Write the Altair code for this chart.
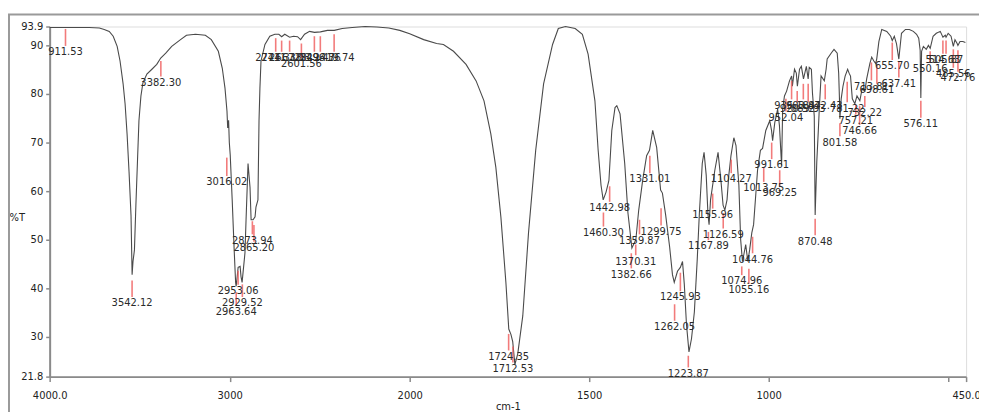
import altair as alt
import pandas as pd

# ---- spectrum trace (wavenumber cm-1, %T) ----
wavenumber = [
    4000, 3890, 3780, 3724, 3697, 3669, 3647, 3625, 3609, 3592, 3581, 3570, 3559, 3548,
    3542, 3537, 3529, 3521, 3512, 3504, 3493, 3482, 3460, 3432, 3405, 3383, 3355, 3322,
    3273, 3240, 3190, 3135, 3102, 3063, 3041, 3026, 3015, 3011, 3006, 3002, 2997, 2986,
    2975, 2967, 2964, 2958, 2953, 2942, 2937, 2931, 2915, 2909, 2898, 2887, 2881, 2870,
    2859, 2854, 2843, 2837, 2832, 2826, 2804, 2777, 2749, 2727, 2711, 2694, 2667, 2645,
    2623, 2606, 2584, 2556, 2529, 2496, 2457, 2419, 2375, 2319, 2248, 2182, 2116, 2055,
    2000, 1961, 1925, 1906, 1878, 1843, 1815, 1793, 1774, 1760, 1746, 1732, 1724, 1718,
    1713, 1707, 1699, 1685, 1669, 1649, 1627, 1602, 1586, 1566, 1539, 1519, 1503, 1484,
    1475, 1467, 1461, 1453, 1445, 1437, 1428, 1423, 1414, 1401, 1392, 1381, 1370, 1362,
    1351, 1340, 1332, 1323, 1312, 1301, 1296, 1287, 1276, 1268, 1263, 1254, 1246, 1240,
    1235, 1229, 1222, 1215, 1207, 1199, 1193, 1185, 1180, 1174, 1169, 1166, 1162, 1158,
    1150, 1141, 1133, 1127, 1122, 1116, 1111, 1105, 1097, 1091, 1083, 1078, 1073, 1069,
    1064, 1058, 1053, 1047, 1042, 1036, 1031, 1023, 1017, 1008, 997, 992, 989, 983,
    975, 970, 964, 961, 956, 950, 942, 936, 934, 928, 923, 920, 914, 909,
    903, 895, 890, 887, 881, 878, 873, 870.5, 866, 862, 859, 854, 845, 840,
    837, 826, 818, 809, 805, 803, 801.6, 798, 793, 787, 780, 776, 772, 767,
    760, 754, 746, 740, 732, 727, 718, 713, 707, 702, 699, 693, 685, 671,
    660, 655.7, 650, 644, 637.4, 630, 619, 608, 597, 588, 582, 578, 576.1, 574,
    569, 561, 555, 550, 542, 533, 522, 514.6, 508, 505.9, 500, 492, 485.6, 481,
    475, 472.8, 467, 459, 452,
]
transmittance = [
    93.7, 93.7, 93.7, 93.6, 93.3, 92.9, 91.9, 89.8, 86.8, 82.1, 78.0, 71.8, 64.0, 55.0,
    42.8, 45.5, 47.9, 57.1, 66.3, 74.5, 79.6, 82.3, 84.1, 85.1, 86.1, 87.4, 88.4, 89.8,
    91.2, 92.1, 92.3, 92.1, 91.2, 88.8, 85.3, 81.2, 76.5, 73.0, 74.6, 70.0, 67.5, 58.2,
    47.9, 41.2, 40.4, 42.5, 44.3, 44.5, 42.4, 41.2, 47.3, 54.1, 65.7, 60.8, 54.1, 54.1,
    54.7, 56.7, 58.2, 74.5, 81.2, 86.8, 90.2, 91.9, 92.3, 92.3, 91.8, 92.3, 91.7, 91.9,
    91.8, 91.2, 92.3, 92.9, 92.7, 92.8, 93.1, 93.1, 93.5, 93.7, 93.9, 93.8, 93.6, 93.1,
    92.4, 91.2, 90.4, 90.2, 88.8, 86.1, 82.7, 78.6, 71.8, 64.9, 54.7, 41.2, 31.6, 30.5,
    29.0, 24.3, 26.5, 34.3, 51.4, 68.4, 82.1, 90.2, 93.5, 93.9, 93.5, 92.3, 88.2, 78.6,
    68.4, 61.2, 58.2, 59.8, 62.2, 72.5, 77.2, 77.6, 75.9, 65.7, 55.5, 48.3, 50.0, 56.1,
    62.2, 67.3, 68.4, 72.5, 69.0, 60.2, 59.6, 55.1, 48.6, 42.8, 41.2, 43.5, 44.3, 45.5,
    40.8, 32.6, 26.9, 29.6, 35.1, 45.9, 55.5, 65.7, 68.0, 63.3, 55.1, 53.1, 58.2, 60.2,
    64.3, 68.0, 62.2, 57.1, 56.1, 58.2, 63.3, 67.3, 71.0, 69.4, 61.2, 50.0, 45.5, 47.0,
    49.0, 45.5, 47.9, 51.4, 53.1, 59.2, 64.3, 68.4, 68.8, 72.5, 74.5, 72.5, 70.4, 74.1,
    76.9, 73.5, 65.3, 76.9, 79.6, 80.6, 82.7, 83.7, 81.6, 85.1, 84.3, 81.6, 85.1, 85.7,
    83.1, 85.7, 83.1, 85.5, 85.1, 80.2, 75.5, 55.1, 66.0, 72.0, 76.9, 83.7, 82.7, 85.1,
    87.2, 88.4, 89.2, 88.4, 84.3, 79.5, 74.9, 79.0, 81.6, 83.7, 85.1, 84.3, 83.7, 79.0,
    78.0, 79.6, 78.6, 81.0, 80.6, 83.1, 86.3, 87.6, 86.8, 86.3, 87.2, 90.8, 93.3, 92.9,
    91.9, 91.0, 91.9, 90.4, 87.2, 92.5, 93.3, 93.3, 92.9, 92.3, 91.5, 89.0, 79.2, 88.8,
    89.8, 89.2, 90.0, 89.4, 91.9, 92.5, 92.9, 91.7, 92.1, 91.7, 92.5, 91.9, 89.8, 91.2,
    90.4, 90.0, 90.8, 90.8, 90.6,
]

# ---- peak annotations ----
peak_wn = [
    3912, 3542.12, 3382.30, 3016.02, 2963.64, 2953.06, 2929.52, 2873.94, 2865.20,
    2744.31, 2711.38, 2667.08, 2601.56, 2529.47, 2496.36, 2419.74,
    1724.35, 1712.53, 1460.30, 1442.98, 1382.66, 1370.31, 1359.87, 1331.01, 1299.75,
    1262.05, 1245.93, 1223.87, 1167.89, 1155.96, 1126.59, 1104.27, 1074.96, 1055.16,
    1044.76, 1013.75, 991.61, 969.25, 952.04, 936.18, 920.52, 903.47, 889.93, 870.48,
    842.43, 801.58, 781.22, 757.21, 746.66, 732.22, 713.81, 698.61, 655.70, 637.41,
    576.11, 550.16, 514.63, 505.87, 485.56, 472.76,
]
peak_text = [
    "911.53", "3542.12", "3382.30", "3016.02", "2963.64", "2953.06", "2929.52", "2873.94", "2865.20",
    "2744.31", "2711.38", "2667.08", "2601.56", "2529.47", "2496.36", "2419.74",
    "1724.35", "1712.53", "1460.30", "1442.98", "1382.66", "1370.31", "1359.87", "1331.01", "1299.75",
    "1262.05", "1245.93", "1223.87", "1167.89", "1155.96", "1126.59", "1104.27", "1074.96", "1055.16",
    "1044.76", "1013.75", "991.61", "969.25", "952.04", "936.18", "920.52", "903.47", "889.93", "870.48",
    "842.43", "801.58", "781.22", "757.21", "746.66", "732.22", "713.81", "698.61", "655.70", "637.41",
    "576.11", "550.16", "514.63", "505.87", "485.56", "472.76",
]
peak_top = [
    93.4, 41.6, 86.8, 66.9, 39.2, 43.6, 40.8, 53.8, 53.0,
    91.5, 91.0, 91.0, 90.4, 91.9, 91.9, 92.3,
    30.6, 28.0, 55.6, 61.0, 47.2, 49.0, 54.1, 67.3, 56.5,
    36.7, 43.2, 26.1, 51.6, 59.5, 55.5, 66.5, 44.5, 44.0,
    50.6, 64.9, 70.0, 64.3, 79.0, 82.7, 80.6, 82.1, 82.1, 54.3,
    82.0, 74.0, 82.5, 77.8, 77.5, 79.6, 86.5, 86.0, 90.6, 86.6,
    78.6, 88.8, 91.0, 91.0, 89.2, 89.0,
]
peak_label_t = [
    88.6, 36.9, 82.3, 61.8, 35.1, 39.4, 36.9, 49.8, 48.3,
    87.4, 87.4, 87.4, 86.1, 87.4, 87.4, 87.4,
    25.9, 23.4, 51.4, 56.5, 42.8, 45.5, 49.8, 62.4, 51.6,
    32.0, 38.1, 22.4, 48.6, 55.1, 51.0, 62.4, 41.4, 39.6,
    45.9, 60.6, 65.3, 59.6, 75.1, 77.6, 77.0, 77.6, 77.0, 49.6,
    77.6, 70.0, 77.0, 74.5, 72.3, 76.0, 81.5, 80.8, 85.7, 82.1,
    73.8, 85.1, 87.0, 87.0, 84.1, 83.3,
]

x_ticks = [4000, 3000, 2000, 1500, 1000, 500, 450]
y_ticks = [21.8, 30, 40, 50, 60, 70, 80, 90, 93.9]

spec = pd.DataFrame({"wn": wavenumber, "T": transmittance, "i": list(range(len(wavenumber)))})
peaks = pd.DataFrame({"wn": peak_wn, "label": peak_text, "top": peak_top, "lab": peak_label_t})

FONT = "DejaVu Sans"
AX = "#8a8a8a"

xscale = alt.Scale(domain=[4000, 2000, 450], range=[0, 363, 924], nice=False, zero=False)
yscale = alt.Scale(domain=[21.8, 93.9], nice=False, zero=False)

x_axis = alt.Axis(
    values=x_ticks,
    labelExpr="datum.value == 4000 ? '4000.0' : datum.value == 450 ? '450.0' : datum.value == 500 ? '' : format(datum.value, 'd')",
    title="cm-1", titleFont=FONT, titleFontSize=10, titleFontWeight="normal", titleColor="#222",
    titleY=30, titleBaseline="middle",
    labelFont=FONT, labelFontSize=10, labelColor="#222", labelPadding=9,
    labelOverlap=False, labelFlush=False, labelBound=False,
    domainColor=AX, domainWidth=2, tickColor=AX, tickWidth=1.5, tickSize=5, grid=False,
)
y_axis = alt.Axis(
    values=y_ticks,
    labelExpr="datum.value % 1 ? format(datum.value, '.1f') : format(datum.value, 'd')",
    title="%T", titleAngle=0, titleX=-41, titleY=193, titleAlign="left", titleBaseline="middle",
    titleFont=FONT, titleFontSize=10, titleFontWeight="normal", titleColor="#222",
    labelFont=FONT, labelFontSize=10, labelColor="#222", labelPadding=3,
    labelOverlap=False, labelFlush=False,
    domainColor=AX, domainWidth=2, tickColor=AX, tickWidth=1.5, tickSize=4, grid=False,
)

line = alt.Chart(spec).mark_line(color="#4a4a4a", strokeWidth=1.1).encode(
    x=alt.X("wn:Q", scale=xscale, axis=x_axis),
    y=alt.Y("T:Q", scale=yscale, axis=y_axis),
    order=alt.Order("i:Q"),
)

ticks = alt.Chart(peaks).transform_calculate(bot="datum.lab + 1.3").mark_rule(
    color="#f06464", strokeWidth=1.6, opacity=0.85
).encode(
    x=alt.X("wn:Q", scale=xscale),
    y=alt.Y("top:Q", scale=yscale),
    y2="bot:Q",
)

labels = alt.Chart(peaks).mark_text(
    font=FONT, fontSize=10, color="#2a2a2a", align="center", baseline="middle"
).encode(
    x=alt.X("wn:Q", scale=xscale),
    y=alt.Y("lab:Q", scale=yscale),
    text="label:N",
)

frame_df = pd.DataFrame({"k": [0]})
top_line = alt.Chart(frame_df).mark_rule(color="#9a9a9a", strokeWidth=2).encode(
    x=alt.value(-42), x2=alt.value(940), y=alt.value(-12)
)
left_line = alt.Chart(frame_df).mark_rule(color="#9a9a9a", strokeWidth=2).encode(
    x=alt.value(-41), y=alt.value(-12), y2=alt.value(400)
)

chart = alt.layer(top_line, left_line, line, ticks, labels).properties(
    width=924, height=353,
    autosize=alt.AutoSizeParams(type="none"),
    padding={"left": 42, "top": 17, "right": 13, "bottom": 34},
).configure_view(stroke=None).configure(background="white")

chart.save("out.html", embed_options={"renderer": "svg", "actions": False})
